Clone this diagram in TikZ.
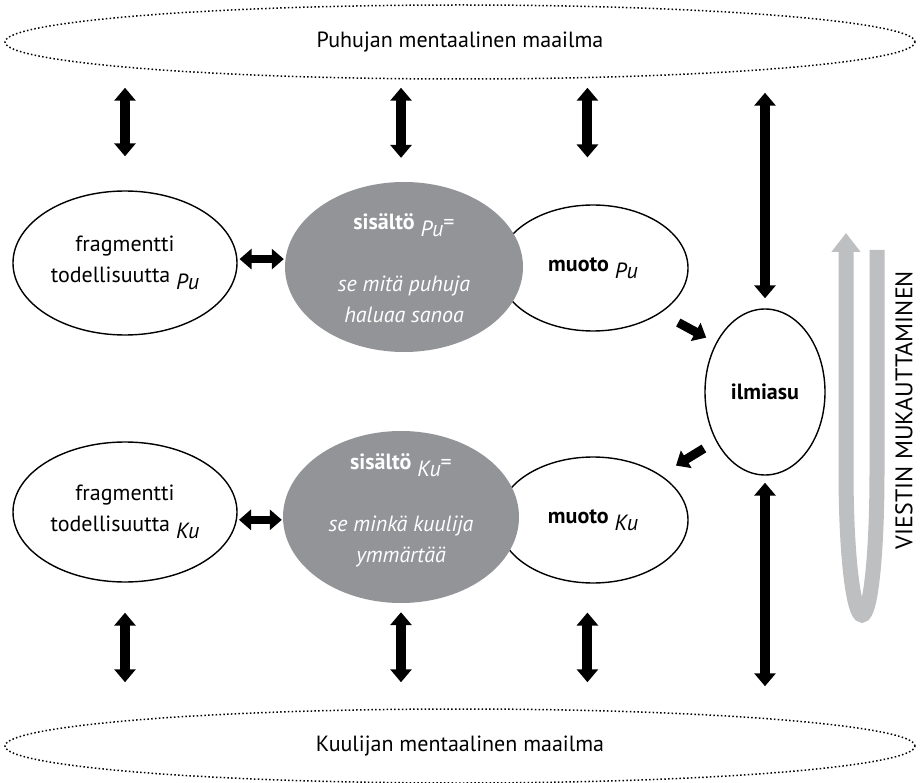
\documentclass[tikz,border=0pt]{standalone}
\usepackage{fontspec}
\setmainfont{PT Sans}
\usetikzlibrary{arrows.meta,shapes.geometric,calc}

\definecolor{sisgrey}{RGB}{147,148,152}
\definecolor{ugrey}{RGB}{190,191,193}

\newcommand{\alaindeksi}[1]{\raisebox{-7pt}{\textit{#1}}}

\tikzset{
  world/.style={ellipse,draw,line width=1.5pt,dash pattern=on 1.5pt off 2.3pt,
    minimum width=910pt,minimum height=74pt,inner sep=0pt},
  oval/.style={ellipse,draw,line width=1.4pt,fill=white,inner sep=0pt,align=center},
  sisoval/.style={ellipse,fill=sisgrey,inner sep=0pt},
  sistext/.style={text=white,align=center},
  vdbl/.style={line width=10pt,{Triangle[width=21pt,length=13pt]}-{Triangle[width=21pt,length=13pt]}},
  hdbl/.style={line width=8pt,{Triangle[width=20pt,length=12pt]}-{Triangle[width=20pt,length=12pt]}},
  diag/.style={line width=9pt,-{Triangle[width=20pt,length=12pt]}}
}

\begin{document}
\begin{tikzpicture}[x=1pt,y=-1pt,font=\fontsize{22}{31}\selectfont]
\useasboundingbox (0,0) rectangle (921,783);

%%% maailmat
\node[world] (puhuja) at (460,42) {Puhujan mentaalinen maailma};
\node[world] (kuulija) at (460,746) {Kuulijan mentaalinen maailma};

%%% puhuja
\node[oval,minimum width=224pt,minimum height=144pt] (frPu) at (125,263) {fragmentti\\todellisuutta \alaindeksi{Pu}};
\node[oval,minimum width=190pt,minimum height=126pt] (muoPu) at (593,268) {\textbf{muoto} \alaindeksi{Pu}};
\node[sisoval,minimum width=238pt,minimum height=170pt] (sisPu) at (404,267) {};
\node[sistext] (sisPuT) at (404,268) {\textbf{sisältö} \alaindeksi{Pu}=\\[31pt]\textit{se mitä puhuja}\\\textit{haluaa sanoa}};

%%% kuulija
\node[oval,minimum width=224pt,minimum height=140pt] (frKu) at (125,512) {fragmentti\\todellisuutta \alaindeksi{Ku}};
\node[oval,minimum width=190pt,minimum height=126pt] (muoKu) at (593,520) {\textbf{muoto} \alaindeksi{Ku}};
\node[sisoval,minimum width=236pt,minimum height=172pt] (sisKu) at (401,517) {};
\node[sistext] (sisKuT) at (401,510) {\textbf{sisältö} \alaindeksi{Ku}=\\[31pt]\textit{se minkä kuulija}\\\textit{ymmärtää}};

\node[oval,minimum width=120pt,minimum height=166pt] (ilm) at (765,392) {\textbf{ilmiasu}};

%%% nuolet
\foreach \n/\s in {frPu.north/34pt,sisPu.92/24pt,muoPu.95/47pt}
  \draw[vdbl,shorten <=8pt,shorten >=\s] (\n |- puhuja.south) -- (\n);
\foreach \n/\s in {frKu.south/30pt,sisKu.south/9pt,muoKu.265/29pt}
  \draw[vdbl,shorten <=\s,shorten >=26pt] (\n) -- (\n |- kuulija.north);

\draw[vdbl,shorten <=13pt,shorten >=10pt] (ilm.north |- puhuja.south) -- (ilm.north);
\draw[vdbl,shorten <=7pt,shorten >=22pt] (ilm.south) -- (ilm.south |- kuulija.north);

\draw[hdbl,shorten <=2pt,shorten >=1pt] (frPu.2) -- (frPu.2 -| sisPu.west);
\draw[hdbl,shorten <=2pt,shorten >=1pt] (frKu.-4) -- (frKu.-4 -| sisKu.west);

\draw[diag,shorten <=20pt,shorten >=11pt] (muoPu.south east) -- (ilm.135);
\draw[diag,shorten <=14pt,shorten >=18pt] (ilm.225) -- (muoKu.north east);

%%% viestin mukauttaminen
\draw[ugrey,line width=15pt,-{Triangle[width=28pt,length=19pt]}]
  (877,250) -- (877,470) .. controls (877,560) and (870,615) .. (862,615)
  .. controls (854,615) and (846,560) .. (846,470) -- (846,233);
\node[rotate=90,inner sep=0pt,font=\fontsize{24}{28}\selectfont] (viesti) at (904,410) {VIESTIN MUKAUTTAMINEN};

\end{tikzpicture}
\end{document}
